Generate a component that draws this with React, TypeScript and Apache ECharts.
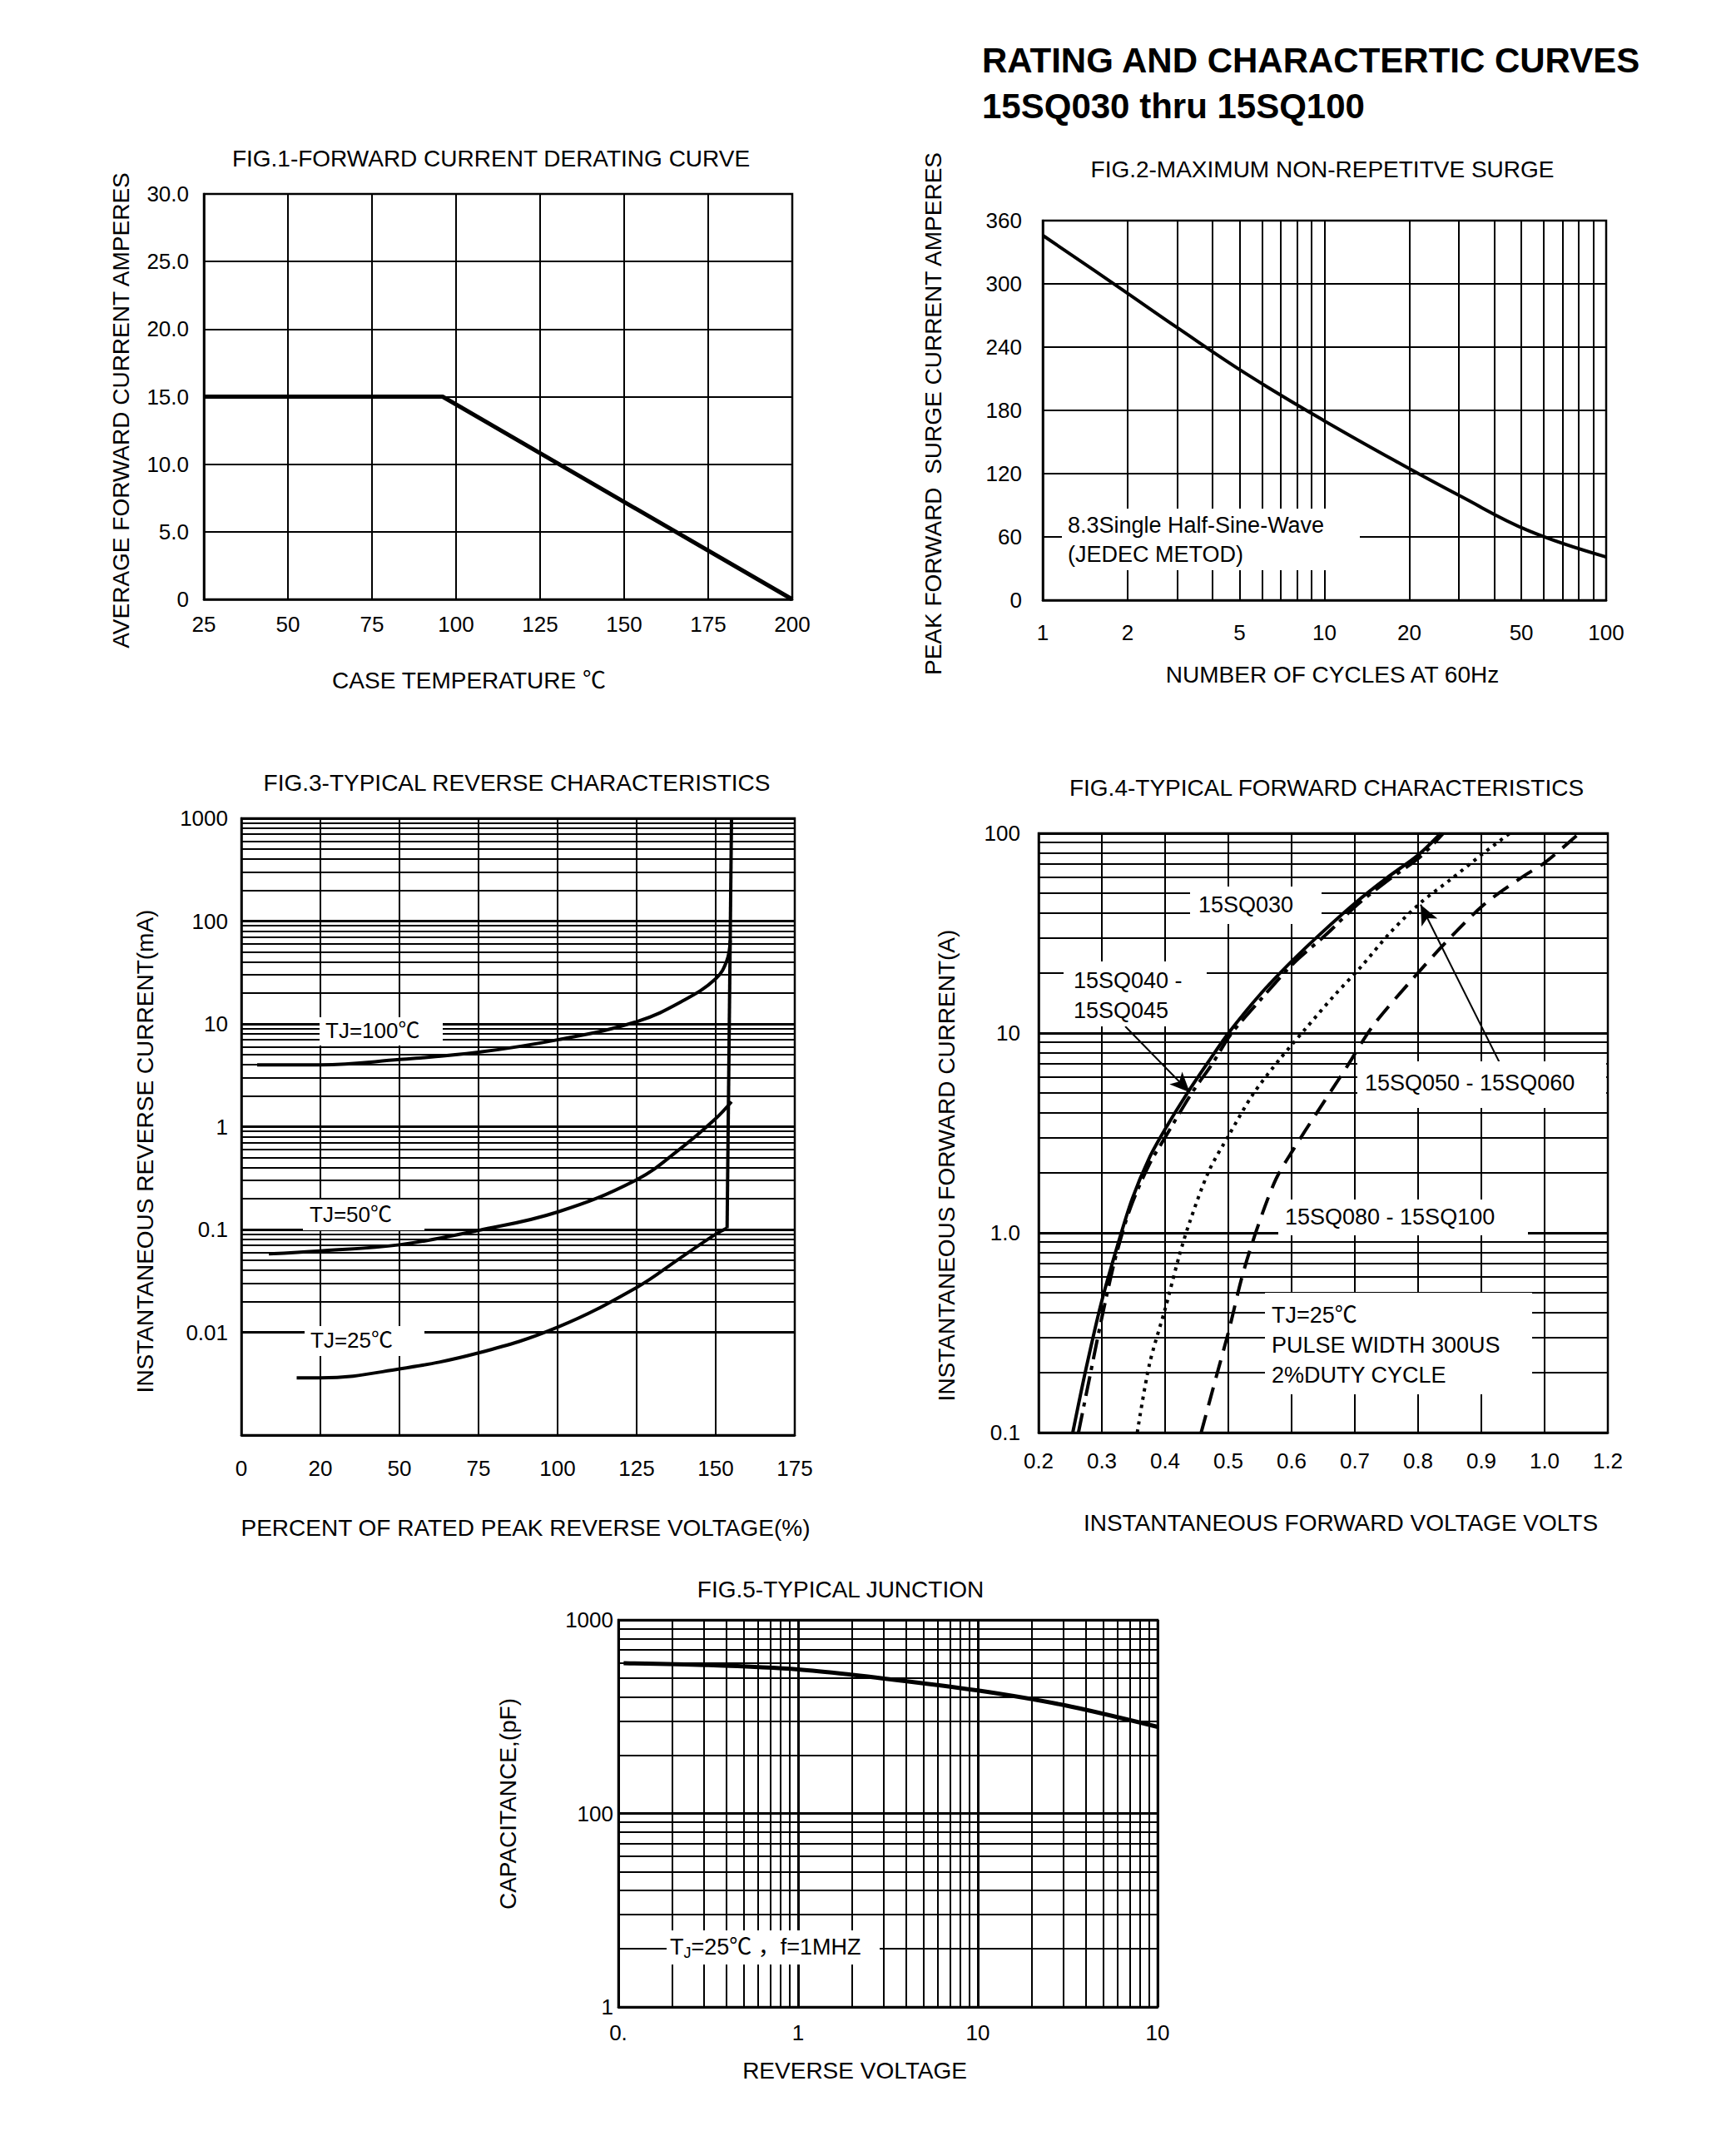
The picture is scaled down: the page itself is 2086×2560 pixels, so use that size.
import React, { useEffect, useRef } from 'react';
import * as echarts from 'echarts';

const FONT = "'Liberation Sans', Arial, 'Noto Sans CJK SC', sans-serif";

// ---------- FIG.1 Forward current derating ----------
const fig1Temperature = [25, 96, 200];
const fig1Current = [15, 15, 0];

// ---------- FIG.2 Non-repetitive surge ----------
const fig2Cycles = [1, 1.88, 3.02, 5.25, 10, 18.7, 30.2, 52.9, 100];
const fig2Surge = [346, 296, 258, 215, 170, 129, 99, 66, 41];
const fig2XLabels = [1, 2, 5, 10, 20, 50, 100];
const fig2MinorX = [2, 3, 4, 5, 6, 7, 8, 9, 20, 30, 40, 50, 60, 70, 80, 90];

// ---------- FIG.3 Reverse characteristics ----------
const fig3Tj100X = [5, 25, 50, 75, 100, 125, 140, 150, 153.5, 154.6];
const fig3Tj100Y = [4.0, 4.0, 4.5, 5.3, 7.0, 10.5, 17, 27.5, 41, 65];
const fig3Tj50X = [8.7, 25, 50, 75, 100, 125, 138.5, 150, 155];
const fig3Tj50Y = [0.058, 0.062, 0.071, 0.098, 0.148, 0.305, 0.6, 1.2, 1.75];
const fig3Tj25X = [17.5, 25, 50, 75, 100, 125, 138.5, 150, 153.6];
const fig3Tj25Y = [0.0036, 0.0036, 0.0044, 0.0063, 0.0112, 0.0273, 0.052, 0.09, 0.103];
const fig3BreakdownX = [153.6, 155];
const fig3BreakdownY = [0.103, 1000];
const fig3Decades = [0.001, 0.01, 0.1, 1, 10, 100];

// ---------- FIG.4 Forward characteristics ----------
const fig4Sq030X = [0.254, 0.275, 0.299, 0.325, 0.348, 0.375, 0.4, 0.434, 0.469, 0.501, 0.551, 0.601, 0.651, 0.701, 0.751, 0.801, 0.836];
const fig4Sq030Y = [0.1, 0.209, 0.445, 0.869, 1.48, 2.37, 3.3, 4.94, 7.22, 10.07, 15.7, 23.0, 32.5, 44.9, 59.9, 78.3, 100];
const fig4Sq040X = [0.263, 0.281, 0.301, 0.322, 0.345, 0.375, 0.4, 0.441, 0.475, 0.504, 0.551, 0.604, 0.654, 0.704, 0.754, 0.804, 0.84];
const fig4Sq040Y = [0.1, 0.191, 0.389, 0.76, 1.33, 2.2, 3.0, 4.94, 7.05, 9.85, 14.7, 22.5, 31, 43.9, 58.6, 76.5, 100];
const fig4Sq050X = [0.356, 0.375, 0.401, 0.422, 0.439, 0.469, 0.501, 0.539, 0.581, 0.622, 0.669, 0.71, 0.757, 0.804, 0.851, 0.901, 0.945];
const fig4Sq050Y = [0.1, 0.218, 0.426, 0.76, 1.135, 2.03, 3.09, 4.94, 7.38, 10.5, 15.6, 21.5, 32.1, 44.9, 58.6, 78.3, 100];
const fig4Sq080X = [0.457, 0.481, 0.501, 0.522, 0.545, 0.575, 0.604, 0.639, 0.687, 0.728, 0.787, 0.845, 0.904, 0.963, 1.001, 1.055];
const fig4Sq080Y = [0.1, 0.191, 0.326, 0.608, 1.04, 1.85, 2.65, 3.95, 6.75, 10.8, 18.0, 28.7, 43.9, 59.9, 71.6, 100];
const fig4Arrow1 = [[0.337, 10.8], [0.439, 5.05]];
const fig4Arrow2 = [[0.928, 7.2], [0.804, 43.9]];
const fig4Decades = [0.1, 1, 10];

// ---------- FIG.5 Junction capacitance ----------
const fig5Voltage = [0.107, 0.3, 1, 3, 10, 30, 100];
const fig5Capacitance = [598, 585, 555, 498, 432, 363, 280];
const fig5XDecades = [0.1, 1, 10];
const fig5YDecades = [10, 100];

const minorMultipliers = [2, 3, 4, 5, 6, 7, 8, 9];
const minorOf = (decades: number[]) =>
  decades.flatMap((d) => minorMultipliers.map((m) => +(d * m).toPrecision(6)));

const zip = (xs: number[], ys: number[]) => xs.map((x, i) => [x, ys[i]]);

const near = (v: number, k: number) => Math.abs(v - k) <= Math.abs(k) * 1e-6 + 1e-12;
const mapFmt = (pairs: [number, string][]) => (v: number) => {
  for (const [k, s] of pairs) if (near(v, k)) return s;
  return '';
};

const gridMarks = (xs: number[], ys: number[], extra: any[] = []) => ({
  silent: true,
  symbol: ['none', 'none'],
  label: { show: false },
  lineStyle: { color: '#000', width: 2, type: 'solid' },
  emphasis: { disabled: true },
  animation: false,
  data: [...xs.map((v) => ({ xAxis: v })), ...ys.map((v) => ({ yAxis: v })), ...extra],
});

const axisBase = (o: any) => ({
  nameLocation: 'middle',
  axisLine: { show: true, onZero: false, lineStyle: { color: '#000', width: 2.5 } },
  axisTick: { show: false },
  splitLine: { show: true, lineStyle: { color: '#000', width: 2 } },
  ...o,
  axisLabel: { color: '#000', fontSize: 26, fontFamily: FONT, ...(o.axisLabel || {}) },
  nameTextStyle: { color: '#000', fontSize: 28, fontFamily: FONT, ...(o.nameTextStyle || {}) },
});

const txt = (text: string, x: number, y: number, size = 27, align = 'left', extra: any = {}) => ({
  type: 'text',
  x,
  y,
  z: 51,
  silent: true,
  style: {
    text,
    fill: '#000',
    font: `${extra.bold ? 'bold ' : ''}${size}px ${FONT}`,
    align,
    verticalAlign: 'middle',
    textAlign: align,
    textVerticalAlign: 'middle',
    lineHeight: extra.lineHeight,
  },
});

const box = (x: number, y: number, w: number, h: number) => ({
  type: 'rect',
  z: 50,
  silent: true,
  shape: { x, y, width: w, height: h },
  style: { fill: '#fff' },
});

const curve = (xi: number, xs: number[], ys: number[], style: any = {}, extra: any = {}) => ({
  type: 'line',
  xAxisIndex: xi,
  yAxisIndex: xi,
  data: zip(xs, ys),
  symbol: 'none',
  showSymbol: false,
  silent: true,
  lineStyle: { color: '#000', width: 4, ...style },
  z: 3,
  ...extra,
});

function buildOption() {
  const grid = (left: number, top: number, width: number, height: number) => ({
    left,
    top,
    width,
    height,
    show: true,
    borderColor: '#000',
    borderWidth: 2.5,
    backgroundColor: 'transparent',
  });

  return {
    animation: false,
    backgroundColor: '#fff',
    textStyle: { fontFamily: FONT, color: '#000' },
    grid: [
      grid(245, 233, 707, 487),
      grid(1253, 265, 677, 456),
      grid(290, 983, 665, 741),
      grid(1248, 1001, 684, 720),
      grid(743, 1946, 648, 465),
    ],
    xAxis: [
      axisBase({
        gridIndex: 0, type: 'value', min: 25, max: 200, interval: 25,
        name: 'CASE TEMPERATURE ℃', nameGap: 83,
        nameTextStyle: { padding: [0, 70, 0, 0] },
        axisLabel: { margin: 17 },
      }),
      axisBase({
        gridIndex: 1, type: 'log', logBase: 10, min: 1, max: 100,
        name: 'NUMBER OF CYCLES AT 60Hz', nameGap: 75,
        nameTextStyle: { padding: [0, 0, 0, 19] },
        axisLabel: { margin: 26, customValues: fig2XLabels, formatter: (v: number) => String(Math.round(v)) },
      }),
      axisBase({
        gridIndex: 2, type: 'value', min: 0, max: 175, interval: 25,
        name: 'PERCENT OF RATED PEAK REVERSE VOLTAGE(%)', nameGap: 97,
        nameTextStyle: { padding: [0, 0, 0, 18] },
        axisLabel: { margin: 27, formatter: (v: number) => (v === 25 ? '20' : String(v)) },
      }),
      axisBase({
        gridIndex: 3, type: 'value', min: 0.2, max: 1.1, interval: 0.1,
        name: 'INSTANTANEOUS FORWARD VOLTAGE VOLTS', nameGap: 94,
        nameTextStyle: { padding: [0, 0, 0, 42] },
        axisLabel: { margin: 21, formatter: (v: number) => (near(v, 1.1) ? '1.2' : v.toFixed(1)) },
      }),
      axisBase({
        gridIndex: 4, type: 'log', logBase: 10, min: 0.1, max: 100,
        name: 'REVERSE VOLTAGE', nameGap: 62,
        nameTextStyle: { padding: [0, 80, 0, 0] },
        splitLine: { show: true, lineStyle: { color: '#000', width: 3 } },
        axisLabel: { margin: 18, formatter: mapFmt([[0.1, '0.'], [1, '1'], [10, '10'], [100, '10']]) },
      }),
    ],
    yAxis: [
      axisBase({
        gridIndex: 0, type: 'value', min: 0, max: 30, interval: 5,
        name: 'AVERAGE FORWARD CURRENT AMPERES', nameGap: 86,
        nameTextStyle: { padding: [0, 33, 0, 0] },
        axisLabel: { margin: 18, formatter: (v: number) => (v === 0 ? '0' : v.toFixed(1)) },
      }),
      axisBase({
        gridIndex: 1, type: 'value', min: 0, max: 360, interval: 60,
        name: 'PEAK FORWARD  SURGE CURRENT AMPERES', nameGap: 118,
        nameTextStyle: { padding: [0, 8, 0, 0] },
        axisLabel: { margin: 25 },
      }),
      axisBase({
        gridIndex: 2, type: 'log', logBase: 10, min: 0.001, max: 1000,
        name: 'INSTANTANEOUS REVERSE CURRENT(mA)', nameGap: 102,
        nameTextStyle: { padding: [0, 59, 0, 0] },
        splitLine: { show: true, lineStyle: { color: '#000', width: 3 } },
        axisLabel: {
          margin: 16,
          formatter: mapFmt([[0.01, '0.01'], [0.1, '0.1'], [1, '1'], [10, '10'], [100, '100'], [1000, '1000']]),
        },
      }),
      axisBase({
        gridIndex: 3, type: 'log', logBase: 10, min: 0.1, max: 100,
        name: 'INSTANTANEOUS FORWARD CURRENT(A)', nameGap: 97,
        nameTextStyle: { padding: [0, 78, 0, 0] },
        splitLine: { show: true, lineStyle: { color: '#000', width: 3 } },
        axisLabel: { margin: 22, formatter: mapFmt([[0.1, '0.1'], [1, '1.0'], [10, '10'], [100, '100']]) },
      }),
      axisBase({
        gridIndex: 4, type: 'log', logBase: 10, min: 10, max: 1000,
        name: 'CAPACITANCE,(pF)', nameGap: 119,
        nameTextStyle: { padding: [0, 0, 0, 23] },
        splitLine: { show: true, lineStyle: { color: '#000', width: 3 } },
        axisLabel: { margin: 6, formatter: mapFmt([[10, '1'], [100, '100'], [1000, '1000']]) },
      }),
    ],
    series: [
      curve(0, fig1Temperature, fig1Current, { width: 5 }),
      curve(1, fig2Cycles, fig2Surge, { width: 4 }, { smooth: 0.4, markLine: gridMarks(fig2MinorX, []) }),
      curve(2, fig3Tj100X, fig3Tj100Y, { width: 4 }, {
        smooth: 0.4, markLine: gridMarks([], minorOf(fig3Decades)),
      }),
      curve(2, fig3Tj50X, fig3Tj50Y, { width: 4 }, { smooth: 0.4 }),
      curve(2, fig3Tj25X, fig3Tj25Y, { width: 4 }, { smooth: 0.4 }),
      curve(2, fig3BreakdownX, fig3BreakdownY, { width: 4 }),
      curve(3, fig4Sq030X, fig4Sq030Y, { width: 4 }, {
        smooth: 0.3,
        markLine: gridMarks([], minorOf(fig4Decades), [
          [
            { coord: fig4Arrow1[0], symbol: 'none', lineStyle: { width: 2, color: '#000', type: 'solid' } },
            { coord: fig4Arrow1[1], symbol: 'arrow', symbolSize: [16, 24] },
          ],
          [
            { coord: fig4Arrow2[0], symbol: 'none', lineStyle: { width: 2, color: '#000', type: 'solid' } },
            { coord: fig4Arrow2[1], symbol: 'arrow', symbolSize: [16, 24] },
          ],
        ]),
      }),
      curve(3, fig4Sq040X, fig4Sq040Y, { width: 4, type: [24, 8, 5, 8] }, { smooth: 0.3 }),
      curve(3, fig4Sq050X, fig4Sq050Y, { width: 4, type: [4, 6] }, { smooth: 0.3 }),
      curve(3, fig4Sq080X, fig4Sq080Y, { width: 4, type: [22, 12] }, { smooth: 0.3 }),
      curve(4, fig5Voltage, fig5Capacitance, { width: 5 }, {
        smooth: 0.3, markLine: gridMarks(minorOf(fig5XDecades), minorOf(fig5YDecades)),
      }),
    ],
    graphic: {
      elements: [
        txt('RATING AND CHARACTERTIC CURVES', 1180, 72, 42, 'left', { bold: true }),
        txt('15SQ030 thru 15SQ100', 1180, 127, 42, 'left', { bold: true }),
        txt('FIG.1-FORWARD CURRENT DERATING CURVE', 590, 190, 28, 'center'),
        txt('FIG.2-MAXIMUM NON-REPETITVE SURGE', 1589, 203, 28, 'center'),
        txt('FIG.3-TYPICAL REVERSE CHARACTERISTICS', 621, 940, 28, 'center'),
        txt('FIG.4-TYPICAL FORWARD CHARACTERISTICS', 1594, 946, 28, 'center'),
        txt('FIG.5-TYPICAL JUNCTION', 1010, 1909, 28, 'center'),
        // Fig.2 note
        box(1276, 611, 358, 74),
        txt('8.3Single Half-Sine-Wave\n(JEDEC METOD)', 1283, 648, 27, 'left', { lineHeight: 35 }),
        // Fig.3 labels
        box(384, 1222, 148, 34),
        txt('TJ=100℃', 391, 1238, 26),
        box(364, 1441, 146, 37),
        txt('TJ=50℃', 372, 1459, 26),
        box(366, 1593, 144, 36),
        txt('TJ=25℃', 373, 1610, 26),
        // Fig.4 labels
        box(1430, 1065, 158, 45),
        txt('15SQ030', 1440, 1087, 27),
        box(1278, 1155, 172, 78),
        txt('15SQ040 -\n15SQ045', 1290, 1196, 27, 'left', { lineHeight: 36 }),
        box(1631, 1275, 299, 56),
        txt('15SQ050 - 15SQ060', 1640, 1301, 27),
        box(1536, 1441, 300, 43),
        txt('15SQ080 - 15SQ100', 1544, 1462, 27),
        box(1520, 1553, 321, 122),
        txt('TJ=25℃\nPULSE WIDTH 300US\n2%DUTY CYCLE', 1528, 1616, 27, 'left', { lineHeight: 36 }),
        // Fig.5 label
        box(801, 2319, 256, 41),
        {
          type: 'text',
          x: 805,
          y: 2339,
          z: 51,
          silent: true,
          style: {
            text: '{a|T}{b|J}{a|=25℃ ，f=1MHZ}',
            fill: '#000',
            font: `27px ${FONT}`,
            align: 'left',
            verticalAlign: 'middle',
            textAlign: 'left',
            textVerticalAlign: 'middle',
            rich: {
              a: { fontSize: 27, fontFamily: FONT, fill: '#000', lineHeight: 32 },
              b: { fontSize: 18, fontFamily: FONT, fill: '#000', lineHeight: 32, verticalAlign: 'bottom' },
            },
          },
        },
      ],
    },
  };
}

export default function App() {
  const ref = useRef<HTMLDivElement>(null);
  useEffect(() => {
    const chart = echarts.init(ref.current as HTMLDivElement, null, { renderer: 'svg' });
    chart.setOption(buildOption() as any);
    return () => chart.dispose();
  }, []);
  return (
    <div
      ref={ref}
      style={{ position: 'absolute', left: 0, top: 0, width: 2086, height: 2560, background: '#fff' }}
    />
  );
}
